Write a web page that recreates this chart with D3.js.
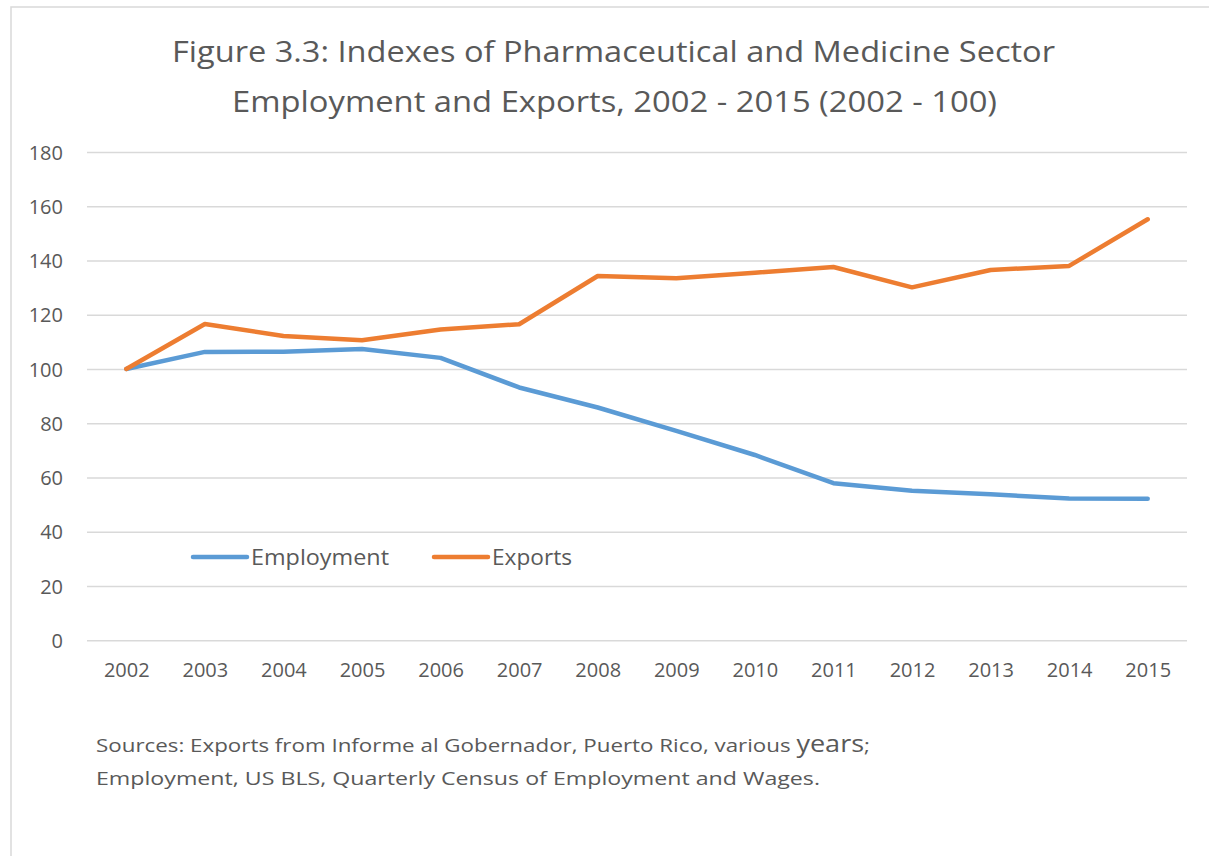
<!DOCTYPE html>
<html>
<head>
<meta charset="utf-8">
<script src="https://cdn.jsdelivr.net/npm/d3@7"></script>
<style>
  html, body { margin: 0; padding: 0; background: #fff; }
  svg { display: block; }
  text { font-family: "Open Sans", "Liberation Sans", sans-serif; fill: #595959; }
</style>
</head>
<body>
<svg id="chart" width="1209" height="856"></svg>
<script>
const years = ["2002","2003","2004","2005","2006","2007","2008","2009","2010","2011","2012","2013","2014","2015"];
const employment = [100, 106.3, 106.4, 107.4, 104.1, 93.2, 85.8, 77.2, 68.3, 57.9, 55.1, 53.8, 52.3, 52.2];
const exports = [100, 116.6, 112.2, 110.6, 114.6, 116.5, 134.3, 133.5, 135.5, 137.6, 130.1, 136.5, 138, 155.2];
const yTicks = [0, 20, 40, 60, 80, 100, 120, 140, 160, 180];
const seriesNames = ["Employment", "Exports"];
const seriesColors = ["#5B9BD5", "#ED7D31"];
const titleLines = ["Figure 3.3: Indexes of Pharmaceutical and Medicine Sector",
                    "Employment and Exports, 2002 - 2015 (2002 - 100)"];

const svg = d3.select("#chart");

// outer chart border (top and left visible)
svg.append("rect").attr("x", 11).attr("y", 7).attr("width", 1230).attr("height", 900)
  .attr("fill", "#fff").attr("stroke", "#D9D9D9").attr("stroke-width", 1.5);

// title
svg.append("text").attr("x", 613.5).attr("y", 62).attr("text-anchor", "middle")
  .style("font-size", "30px").attr("textLength", 883).attr("lengthAdjust", "spacingAndGlyphs")
  .text(titleLines[0]);
svg.append("text").attr("x", 614.5).attr("y", 112).attr("text-anchor", "middle")
  .style("font-size", "30px").attr("textLength", 765).attr("lengthAdjust", "spacingAndGlyphs")
  .text(titleLines[1]);

const x = d3.scalePoint().domain(years).range([87, 1187]).padding(0.5);
const y = d3.scaleLinear().domain([0, 180]).range([640.25, 152]);

// y axis + gridlines
const yAxis = svg.append("g").attr("transform", "translate(87,0)")
  .call(d3.axisLeft(y).tickValues(yTicks).tickSize(-1100).tickPadding(24));
yAxis.select(".domain").remove();
yAxis.selectAll(".tick line").attr("stroke", "#D9D9D9").attr("stroke-width", 1.5);
yAxis.selectAll(".tick text").style("font-size", "20px").attr("fill", "#595959").attr("dy", "0.35em");

// x axis
const xAxis = svg.append("g").attr("transform", "translate(0,640.25)")
  .call(d3.axisBottom(x).tickSize(0).tickPadding(30));
xAxis.select(".domain").remove();
xAxis.selectAll(".tick text").style("font-size", "20px").attr("fill", "#595959").attr("dy", "0.35em");

// lines
const line = d3.line().x((d, i) => x(years[i])).y(d => y(d));
[employment, exports].forEach((s, k) => {
  svg.append("path").datum(s).attr("d", line).attr("fill", "none")
    .attr("stroke", seriesColors[k]).attr("stroke-width", 4.5)
    .attr("stroke-linejoin", "round").attr("stroke-linecap", "round");
});

// legend
const legendX = [193, 434];
const legendW = [138, 80];
seriesNames.forEach((n, k) => {
  const g = svg.append("g").attr("transform", `translate(${legendX[k]},557)`);
  g.append("line").attr("x1", 0).attr("x2", 54).attr("y1", 0).attr("y2", 0)
    .attr("stroke", seriesColors[k]).attr("stroke-width", 4.5).attr("stroke-linecap", "round");
  g.append("text").attr("x", 58).attr("y", 0).attr("dy", "0.35em")
    .style("font-size", "22px").attr("textLength", legendW[k]).attr("lengthAdjust", "spacingAndGlyphs")
    .text(n);
});

// sources note
const s1 = svg.append("text").attr("x", 96).attr("y", 752).style("font-size", "19px")
  .attr("textLength", 774).attr("lengthAdjust", "spacingAndGlyphs");
s1.append("tspan").text("Sources: Exports from Informe al Gobernador, Puerto Rico, various ");
s1.append("tspan").style("font-size", "23px").text("years");
s1.append("tspan").text(";");
svg.append("text").attr("x", 96).attr("y", 785).style("font-size", "19px")
  .attr("textLength", 724).attr("lengthAdjust", "spacingAndGlyphs")
  .text("Employment, US BLS, Quarterly Census of Employment and Wages.");
</script>
</body>
</html>
